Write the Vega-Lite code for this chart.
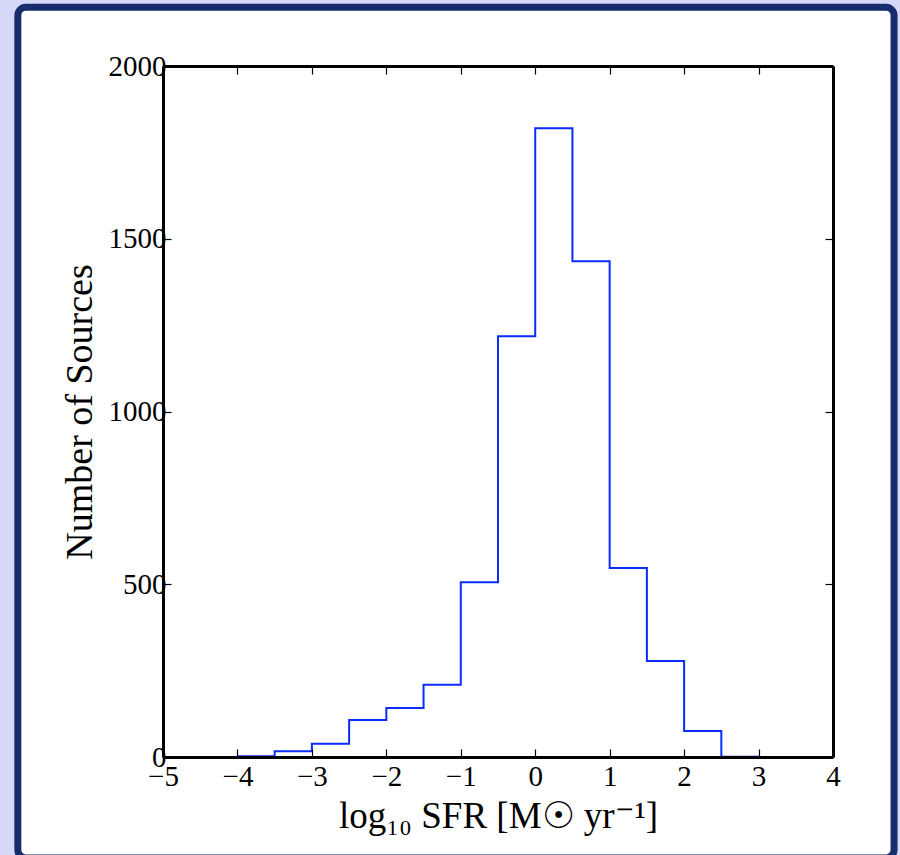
{
  "$schema": "https://vega.github.io/schema/vega-lite/v6.json",
  "width": 670,
  "height": 691,
  "autosize": {"type": "none"},
  "padding": {"left": 163, "top": 66, "right": 67, "bottom": 98},
  "background": "#d6d8f8",
  "config": {
    "view": {"stroke": null},
    "axis": {
      "zindex": 1,
      "grid": false,
      "domainColor": "black",
      "domainWidth": 3,
      "tickColor": "black",
      "tickWidth": 1.2,
      "tickSize": -8,
      "labelFont": "Liberation Serif",
      "labelFontSize": 29,
      "labelColor": "black",
      "labelFlush": false,
      "labelOverlap": false,
      "labelPadding": 6,
      "titleFont": "Liberation Serif",
      "titleFontSize": 37,
      "titleFontWeight": "normal",
      "titleColor": "black"
    }
  },
  "data": {
    "values": [
      {"sfr": -4.0, "count": 2},
      {"sfr": -3.5, "count": 17},
      {"sfr": -3.0, "count": 38},
      {"sfr": -2.5, "count": 107},
      {"sfr": -2.0, "count": 142},
      {"sfr": -1.5, "count": 209},
      {"sfr": -1.0, "count": 506},
      {"sfr": -0.5, "count": 1218},
      {"sfr": 0.0, "count": 1820},
      {"sfr": 0.5, "count": 1435},
      {"sfr": 1.0, "count": 547},
      {"sfr": 1.5, "count": 278},
      {"sfr": 2.0, "count": 75},
      {"sfr": 2.5, "count": 1},
      {"sfr": 3.0, "count": 0}
    ]
  },
  "layer": [
    {
      "data": {"values": [{}]},
      "mark": {"type": "rect", "fill": "white", "stroke": "#172c6c", "strokeWidth": 7, "cornerRadius": 8},
      "encoding": {
        "x": {"datum": -6.95, "type": "quantitative", "axis": null, "scale": {"domain": [-5, 4], "nice": false, "zero": false}},
        "x2": {"datum": 4.82},
        "y": {"datum": 2170, "type": "quantitative", "axis": null, "scale": {"domain": [0, 2000], "nice": false, "zero": false}},
        "y2": {"datum": -292}
      }
    },
    {
      "mark": {"type": "line", "interpolate": "step-after", "color": "#0a2cff", "strokeWidth": 2},
      "encoding": {
        "x": {
          "field": "sfr", "type": "quantitative",
          "scale": {"domain": [-5, 4], "nice": false, "zero": false},
          "axis": {"orient": "bottom", "zindex": 1, "values": [-5, -4, -3, -2, -1, 0, 1, 2, 3, 4], "labelPadding": 13, "title": "log₁₀ SFR [M☉ yr⁻¹]", "titlePadding": 7}
        },
        "y": {
          "field": "count", "type": "quantitative",
          "scale": {"domain": [0, 2000], "nice": false, "zero": false},
          "axis": {"orient": "left", "zindex": 1, "format": "d", "values": [0, 500, 1000, 1500, 2000], "labelPadding": 5, "title": "Number of Sources", "titleFontSize": 38, "titlePadding": 9}
        }
      }
    },
    {
      "mark": {"type": "line", "strokeOpacity": 0},
      "encoding": {
        "x": {
          "field": "sfr", "type": "quantitative",
          "scale": {"domain": [-5, 4], "nice": false, "zero": false},
          "axis": {"orient": "top", "zindex": 1, "values": [-5, -4, -3, -2, -1, 0, 1, 2, 3, 4], "labels": false, "title": null}
        },
        "y": {
          "field": "count", "type": "quantitative",
          "scale": {"domain": [0, 2000], "nice": false, "zero": false},
          "axis": {"orient": "right", "zindex": 1, "values": [0, 500, 1000, 1500, 2000], "labels": false, "title": null}
        }
      }
    }
  ],
  "resolve": {"axis": {"x": "independent", "y": "independent"}}
}
